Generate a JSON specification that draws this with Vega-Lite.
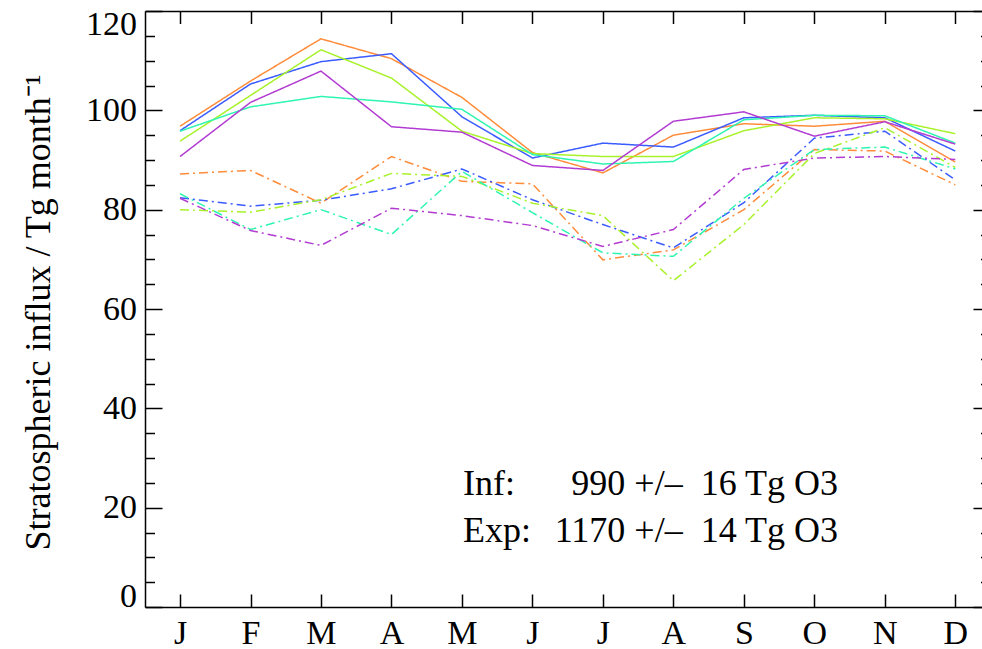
{
  "$schema": "https://vega.github.io/schema/vega-lite/v6.json",
  "width": 837,
  "height": 596,
  "autosize": {"type": "none"},
  "padding": {"left": 145, "top": 11, "right": 0, "bottom": 42},
  "background": "white",
  "config": {
    "view": {"stroke": null},
    "font": "Liberation Serif, Times New Roman, serif",
    "axis": {
      "domainColor": "#000",
      "domainWidth": 1.5,
      "tickColor": "#000",
      "tickWidth": 1.5,
      "labelColor": "#000",
      "labelFont": "Liberation Serif, Times New Roman, serif",
      "labelFontSize": 34,
      "labelFlush": false,
      "labelOverlap": false,
      "labelBound": false,
      "grid": false,
      "titleFont": "Liberation Serif, Times New Roman, serif",
      "titleFontWeight": "normal",
      "titleColor": "#000"
    },
    "text": {"font": "Liberation Serif, Times New Roman, serif", "fontSize": 36, "color": "#000", "baseline": "alphabetic"}
  },
  "data": {
    "values": [
      {"m": 0, "model": "orange", "run": "Exp", "v": 96.8},
      {"m": 1, "model": "orange", "run": "Exp", "v": 105.9},
      {"m": 2, "model": "orange", "run": "Exp", "v": 114.4},
      {"m": 3, "model": "orange", "run": "Exp", "v": 110.4},
      {"m": 4, "model": "orange", "run": "Exp", "v": 102.6},
      {"m": 5, "model": "orange", "run": "Exp", "v": 91.5},
      {"m": 6, "model": "orange", "run": "Exp", "v": 87.4},
      {"m": 7, "model": "orange", "run": "Exp", "v": 95.0},
      {"m": 8, "model": "orange", "run": "Exp", "v": 97.3},
      {"m": 9, "model": "orange", "run": "Exp", "v": 96.8},
      {"m": 10, "model": "orange", "run": "Exp", "v": 97.8},
      {"m": 11, "model": "orange", "run": "Exp", "v": 89.6},
      {"m": 0, "model": "blue", "run": "Exp", "v": 95.9},
      {"m": 1, "model": "blue", "run": "Exp", "v": 105.3},
      {"m": 2, "model": "blue", "run": "Exp", "v": 109.8},
      {"m": 3, "model": "blue", "run": "Exp", "v": 111.4},
      {"m": 4, "model": "blue", "run": "Exp", "v": 98.7},
      {"m": 5, "model": "blue", "run": "Exp", "v": 90.4},
      {"m": 6, "model": "blue", "run": "Exp", "v": 93.4},
      {"m": 7, "model": "blue", "run": "Exp", "v": 92.6},
      {"m": 8, "model": "blue", "run": "Exp", "v": 98.5},
      {"m": 9, "model": "blue", "run": "Exp", "v": 99.0},
      {"m": 10, "model": "blue", "run": "Exp", "v": 98.5},
      {"m": 11, "model": "blue", "run": "Exp", "v": 91.8},
      {"m": 0, "model": "yellowgreen", "run": "Exp", "v": 93.8},
      {"m": 1, "model": "yellowgreen", "run": "Exp", "v": 103.0},
      {"m": 2, "model": "yellowgreen", "run": "Exp", "v": 112.2},
      {"m": 3, "model": "yellowgreen", "run": "Exp", "v": 106.5},
      {"m": 4, "model": "yellowgreen", "run": "Exp", "v": 95.8},
      {"m": 5, "model": "yellowgreen", "run": "Exp", "v": 91.3},
      {"m": 6, "model": "yellowgreen", "run": "Exp", "v": 90.7},
      {"m": 7, "model": "yellowgreen", "run": "Exp", "v": 90.7},
      {"m": 8, "model": "yellowgreen", "run": "Exp", "v": 95.9},
      {"m": 9, "model": "yellowgreen", "run": "Exp", "v": 98.5},
      {"m": 10, "model": "yellowgreen", "run": "Exp", "v": 98.3},
      {"m": 11, "model": "yellowgreen", "run": "Exp", "v": 95.3},
      {"m": 0, "model": "mint", "run": "Exp", "v": 95.8},
      {"m": 1, "model": "mint", "run": "Exp", "v": 100.7},
      {"m": 2, "model": "mint", "run": "Exp", "v": 102.8},
      {"m": 3, "model": "mint", "run": "Exp", "v": 101.7},
      {"m": 4, "model": "mint", "run": "Exp", "v": 100.2},
      {"m": 5, "model": "mint", "run": "Exp", "v": 91.1},
      {"m": 6, "model": "mint", "run": "Exp", "v": 89.2},
      {"m": 7, "model": "mint", "run": "Exp", "v": 89.7},
      {"m": 8, "model": "mint", "run": "Exp", "v": 98.1},
      {"m": 9, "model": "mint", "run": "Exp", "v": 99.0},
      {"m": 10, "model": "mint", "run": "Exp", "v": 98.9},
      {"m": 11, "model": "mint", "run": "Exp", "v": 93.4},
      {"m": 0, "model": "purple", "run": "Exp", "v": 90.7},
      {"m": 1, "model": "purple", "run": "Exp", "v": 101.6},
      {"m": 2, "model": "purple", "run": "Exp", "v": 107.9},
      {"m": 3, "model": "purple", "run": "Exp", "v": 96.7},
      {"m": 4, "model": "purple", "run": "Exp", "v": 95.6},
      {"m": 5, "model": "purple", "run": "Exp", "v": 88.9},
      {"m": 6, "model": "purple", "run": "Exp", "v": 87.9},
      {"m": 7, "model": "purple", "run": "Exp", "v": 97.8},
      {"m": 8, "model": "purple", "run": "Exp", "v": 99.7},
      {"m": 9, "model": "purple", "run": "Exp", "v": 94.8},
      {"m": 10, "model": "purple", "run": "Exp", "v": 97.7},
      {"m": 11, "model": "purple", "run": "Exp", "v": 93.2},
      {"m": 0, "model": "orange", "run": "Inf", "v": 87.2},
      {"m": 1, "model": "orange", "run": "Inf", "v": 87.9},
      {"m": 2, "model": "orange", "run": "Inf", "v": 81.3},
      {"m": 3, "model": "orange", "run": "Inf", "v": 90.7},
      {"m": 4, "model": "orange", "run": "Inf", "v": 85.7},
      {"m": 5, "model": "orange", "run": "Inf", "v": 85.2},
      {"m": 6, "model": "orange", "run": "Inf", "v": 69.9},
      {"m": 7, "model": "orange", "run": "Inf", "v": 71.9},
      {"m": 8, "model": "orange", "run": "Inf", "v": 80.0},
      {"m": 9, "model": "orange", "run": "Inf", "v": 92.1},
      {"m": 10, "model": "orange", "run": "Inf", "v": 91.8},
      {"m": 11, "model": "orange", "run": "Inf", "v": 85.0},
      {"m": 0, "model": "blue", "run": "Inf", "v": 82.4},
      {"m": 1, "model": "blue", "run": "Inf", "v": 80.7},
      {"m": 2, "model": "blue", "run": "Inf", "v": 81.9},
      {"m": 3, "model": "blue", "run": "Inf", "v": 84.2},
      {"m": 4, "model": "blue", "run": "Inf", "v": 88.2},
      {"m": 5, "model": "blue", "run": "Inf", "v": 82.0},
      {"m": 6, "model": "blue", "run": "Inf", "v": 77.0},
      {"m": 7, "model": "blue", "run": "Inf", "v": 72.3},
      {"m": 8, "model": "blue", "run": "Inf", "v": 81.4},
      {"m": 9, "model": "blue", "run": "Inf", "v": 94.4},
      {"m": 10, "model": "blue", "run": "Inf", "v": 95.8},
      {"m": 11, "model": "blue", "run": "Inf", "v": 86.0},
      {"m": 0, "model": "yellowgreen", "run": "Inf", "v": 80.0},
      {"m": 1, "model": "yellowgreen", "run": "Inf", "v": 79.5},
      {"m": 2, "model": "yellowgreen", "run": "Inf", "v": 82.0},
      {"m": 3, "model": "yellowgreen", "run": "Inf", "v": 87.3},
      {"m": 4, "model": "yellowgreen", "run": "Inf", "v": 86.7},
      {"m": 5, "model": "yellowgreen", "run": "Inf", "v": 81.3},
      {"m": 6, "model": "yellowgreen", "run": "Inf", "v": 78.8},
      {"m": 7, "model": "yellowgreen", "run": "Inf", "v": 65.7},
      {"m": 8, "model": "yellowgreen", "run": "Inf", "v": 77.0},
      {"m": 9, "model": "yellowgreen", "run": "Inf", "v": 91.3},
      {"m": 10, "model": "yellowgreen", "run": "Inf", "v": 96.5},
      {"m": 11, "model": "yellowgreen", "run": "Inf", "v": 88.5},
      {"m": 0, "model": "mint", "run": "Inf", "v": 83.2},
      {"m": 1, "model": "mint", "run": "Inf", "v": 76.0},
      {"m": 2, "model": "mint", "run": "Inf", "v": 80.0},
      {"m": 3, "model": "mint", "run": "Inf", "v": 75.0},
      {"m": 4, "model": "mint", "run": "Inf", "v": 87.7},
      {"m": 5, "model": "mint", "run": "Inf", "v": 79.4},
      {"m": 6, "model": "mint", "run": "Inf", "v": 71.3},
      {"m": 7, "model": "mint", "run": "Inf", "v": 70.6},
      {"m": 8, "model": "mint", "run": "Inf", "v": 82.3},
      {"m": 9, "model": "mint", "run": "Inf", "v": 92.1},
      {"m": 10, "model": "mint", "run": "Inf", "v": 92.6},
      {"m": 11, "model": "mint", "run": "Inf", "v": 88.2},
      {"m": 0, "model": "purple", "run": "Inf", "v": 82.3},
      {"m": 1, "model": "purple", "run": "Inf", "v": 75.8},
      {"m": 2, "model": "purple", "run": "Inf", "v": 72.8},
      {"m": 3, "model": "purple", "run": "Inf", "v": 80.3},
      {"m": 4, "model": "purple", "run": "Inf", "v": 78.8},
      {"m": 5, "model": "purple", "run": "Inf", "v": 76.8},
      {"m": 6, "model": "purple", "run": "Inf", "v": 72.6},
      {"m": 7, "model": "purple", "run": "Inf", "v": 76.0},
      {"m": 8, "model": "purple", "run": "Inf", "v": 88.1},
      {"m": 9, "model": "purple", "run": "Inf", "v": 90.4},
      {"m": 10, "model": "purple", "run": "Inf", "v": 90.7},
      {"m": 11, "model": "purple", "run": "Inf", "v": 90.1}
    ]
  },
  "layer": [
    {
      "mark": {"type": "line", "strokeWidth": 1.5},
      "encoding": {
        "x": {
          "field": "m",
          "type": "quantitative",
          "scale": {"domain": [-0.497, 11.379], "nice": false, "zero": false},
          "axis": {
            "orient": "bottom",
            "values": [0, 1, 2, 3, 4, 5, 6, 7, 8, 9, 10, 11],
            "labelExpr": "['J','F','M','A','M','J','J','A','S','O','N','D'][datum.value]",
            "tickSize": -13,
            "labelPadding": 22,
            "labelBaseline": "top",
            "labelAngle": 0,
            "title": null
          }
        },
        "y": {
          "field": "v",
          "type": "quantitative",
          "scale": {"domain": [0, 120], "nice": false},
          "axis": {
            "orient": "left",
            "values": [0, 5, 10, 15, 20, 25, 30, 35, 40, 45, 50, 55, 60, 65, 70, 75, 80, 85, 90, 95, 100, 105, 110, 115, 120],
            "labelExpr": "datum.value % 20 == 0 ? datum.label : ''",
            "tickSize": {"condition": {"test": "datum.value % 20 == 0", "value": -17}, "value": -9.5},
            "labelPadding": 25.5,
            "labelOffset": {"expr": "datum.value == 0 ? -11 : (datum.value == 120 ? 13 : 0)"},
            "labelBaseline": "middle",
            "title": "Stratospheric influx / Tg month⁻¹",
            "titleFontSize": 36,
            "titleAngle": -90,
            "titleAlign": "center",
            "titleBaseline": "alphabetic",
            "titleX": -96,
            "titleY": 301
          }
        },
        "color": {
          "field": "model",
          "type": "nominal",
          "scale": {
            "domain": ["orange", "blue", "yellowgreen", "mint", "purple"],
            "range": ["#FF8C3A", "#3A5BFF", "#A8F22A", "#2EF5B0", "#B23CD2"]
          },
          "legend": null
        },
        "strokeDash": {
          "field": "run",
          "type": "nominal",
          "scale": {"domain": ["Exp", "Inf"], "range": [[1, 0], [9, 4, 2, 4]]},
          "legend": null
        }
      }
    },
    {
      "data": {"values": [{"t": "Inf:"}]},
      "mark": {"type": "text", "align": "left"},
      "encoding": {
        "x": {
          "datum": 4.015,
          "type": "quantitative",
          "axis": {
            "orient": "top",
            "values": [0, 1, 2, 3, 4, 5, 6, 7, 8, 9, 10, 11],
            "labels": false,
            "tickSize": -12.5,
            "title": null
          }
        },
        "y": {
          "datum": 22.57,
          "type": "quantitative",
          "axis": {
            "orient": "right",
            "values": [0, 5, 10, 15, 20, 25, 30, 35, 40, 45, 50, 55, 60, 65, 70, 75, 80, 85, 90, 95, 100, 105, 110, 115, 120],
            "labels": false,
            "domain": false,
            "tickSize": {"condition": {"test": "datum.value % 20 == 0", "value": -9}, "value": -1.5},
            "title": null
          }
        },
        "text": {"field": "t"}
      }
    },
    {
      "data": {"values": [{"t": "990 +/–\u00a0\u00a016 Tg O3"}]},
      "mark": {"type": "text", "align": "right"},
      "encoding": {
        "x": {"datum": 9.336, "type": "quantitative", "axis": null},
        "y": {"datum": 22.57, "type": "quantitative", "axis": null},
        "text": {"field": "t"}
      }
    },
    {
      "data": {"values": [{"t": "Exp:"}]},
      "mark": {"type": "text", "align": "left"},
      "encoding": {
        "x": {"datum": 4.015, "type": "quantitative", "axis": null},
        "y": {"datum": 13.1, "type": "quantitative", "axis": null},
        "text": {"field": "t"}
      }
    },
    {
      "data": {"values": [{"t": "1170 +/–\u00a0\u00a014 Tg O3"}]},
      "mark": {"type": "text", "align": "right"},
      "encoding": {
        "x": {"datum": 9.336, "type": "quantitative", "axis": null},
        "y": {"datum": 13.1, "type": "quantitative", "axis": null},
        "text": {"field": "t"}
      }
    }
  ],
  "resolve": {"axis": {"x": "independent", "y": "independent"}}
}
